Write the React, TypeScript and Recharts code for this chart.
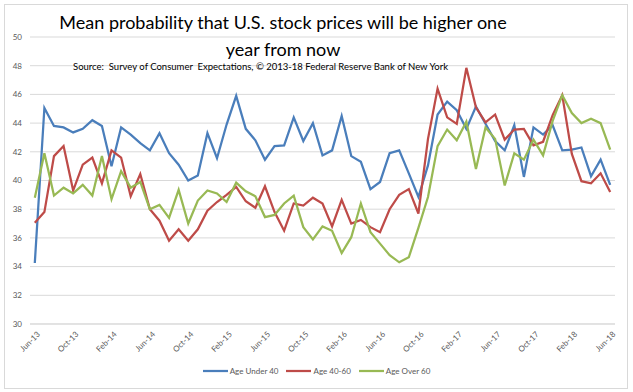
import { LineChart, Line, XAxis, YAxis, CartesianGrid, Legend } from 'recharts'

const months = [
  'Jun-13', 'Jul-13', 'Aug-13', 'Sep-13', 'Oct-13', 'Nov-13', 'Dec-13', 'Jan-14', 'Feb-14', 'Mar-14',
  'Apr-14', 'May-14', 'Jun-14', 'Jul-14', 'Aug-14', 'Sep-14', 'Oct-14', 'Nov-14', 'Dec-14', 'Jan-15',
  'Feb-15', 'Mar-15', 'Apr-15', 'May-15', 'Jun-15', 'Jul-15', 'Aug-15', 'Sep-15', 'Oct-15', 'Nov-15',
  'Dec-15', 'Jan-16', 'Feb-16', 'Mar-16', 'Apr-16', 'May-16', 'Jun-16', 'Jul-16', 'Aug-16', 'Sep-16',
  'Oct-16', 'Nov-16', 'Dec-16', 'Jan-17', 'Feb-17', 'Mar-17', 'Apr-17', 'May-17', 'Jun-17', 'Jul-17',
  'Aug-17', 'Sep-17', 'Oct-17', 'Nov-17', 'Dec-17', 'Jan-18', 'Feb-18', 'Mar-18', 'Apr-18', 'May-18',
  'Jun-18',
]

const under40 = [
  34.25, 45.05, 43.8, 43.7, 43.35, 43.6, 44.2, 43.8, 41.0, 43.7,
  43.2, 42.6, 42.1, 43.3, 41.9, 41.1, 40.0, 40.35, 43.3, 41.55,
  43.9, 45.9, 43.6, 42.8, 41.45, 42.4, 42.45, 44.4, 42.75, 44.0,
  41.75, 42.1, 44.5, 41.7, 41.3, 39.4, 39.9, 41.9, 42.1, 40.5,
  38.85, 41.05, 44.6, 45.5, 44.9, 43.6, 45.15, 43.95, 42.75, 42.1,
  43.85, 40.25, 43.7, 43.2, 43.85, 42.1, 42.15, 42.3, 40.3, 41.45,
  39.7,
]

const age40to60 = [
  37.05, 37.8, 41.7, 42.4, 39.3, 41.1, 41.6, 39.8, 42.1, 41.6,
  38.9, 40.45, 38.0, 37.2, 35.8, 36.6, 35.8, 36.6, 37.9, 38.5,
  39.0, 39.55, 38.55, 38.1, 39.6, 37.8, 36.5, 38.4, 38.25, 38.8,
  38.4, 36.8, 38.65, 37.0, 37.25, 36.75, 36.4, 38.0, 39.0, 39.4,
  37.7, 42.9, 46.4, 44.4, 43.95, 47.85, 45.1, 44.05, 44.6, 42.85,
  43.55, 43.6, 42.45, 42.7, 44.55, 45.95, 41.85, 39.95, 39.8, 40.5,
  39.2,
]

const over60 = [
  38.8, 41.9, 38.95, 39.5, 39.1, 39.7, 38.95, 41.7, 38.7, 40.65,
  39.5, 39.9, 38.0, 38.3, 37.4, 39.35, 37.0, 38.6, 39.3, 39.1,
  38.5, 39.85, 39.25, 38.9, 37.45, 37.6, 38.4, 38.95, 36.75, 35.9,
  36.8, 36.5, 34.95, 36.05, 38.4, 36.4, 35.6, 34.8, 34.3, 34.65,
  36.7, 38.85, 42.4, 43.55, 42.8, 44.1, 40.8, 43.7, 42.9, 39.65,
  41.9, 41.45, 42.85, 41.75, 44.15, 45.95, 44.7, 44.0, 44.3, 44.0,
  42.15,
]

const yTicks = [30, 32, 34, 36, 38, 40, 42, 44, 46, 48, 50]

const series = [
  { key: 'under40', name: 'Age Under 40', color: '#4a7ebb' },
  { key: 'age40to60', name: 'Age 40-60', color: '#be4b48' },
  { key: 'over60', name: 'Age Over 60', color: '#98b954' },
]

const chartData = months.map((m, i) => ({
  month: m,
  under40: under40[i],
  age40to60: age40to60[i],
  over60: over60[i],
}))

const FONT = 'Lato, "Open Sans", sans-serif'

// rotated month labels like Excel
function MonthTick({ x, y, payload }: any) {
  return (
    <g transform={`translate(${x + 3},${y})`}>
      <text x={0} y={0} dy={4} textAnchor="end" transform="rotate(-45)" fontSize={8} fill="#595959" fontFamily={FONT}>
        {payload.value}
      </text>
    </g>
  )
}

function LegendContent() {
  return (
    <div style={{ display: 'flex', justifyContent: 'center', alignItems: 'center', fontFamily: FONT, fontSize: 8, color: '#595959', paddingLeft: 18, marginTop: -3 }}>
      {series.map(s => (
        <div key={s.key} style={{ display: 'flex', alignItems: 'center', marginRight: 8 }}>
          <svg width={25} height={6} style={{ marginRight: 2 }}>
            <line x1={0} y1={3} x2={25} y2={3} stroke={s.color} strokeWidth={2.25} />
          </svg>
          <span>{s.name}</span>
        </div>
      ))}
    </div>
  )
}

export default function App() {
  return (
    <div style={{ position: 'absolute', left: 0, top: 0, width: 633, height: 392, background: '#fff' }}>
      <div style={{ position: 'absolute', left: 4, top: 4, width: 622, height: 383, border: '1px solid #d9d9d9' }} />
      <LineChart width={633} height={392} data={chartData} margin={{ top: 37, right: 18, bottom: 16, left: 8 }}>
        <CartesianGrid horizontal vertical={false} stroke="#d9d9d9" />
        <XAxis
          dataKey="month"
          interval={3}
          tickLine={false}
          axisLine={{ stroke: '#d9d9d9' }}
          height={45}
          padding={{ left: 4.8, right: 4.8 }}
          tick={<MonthTick />}
        />
        <YAxis
          domain={[30, 50]}
          ticks={yTicks}
          width={22}
          tickLine={false}
          axisLine={false}
          tick={{ fontSize: 8, fill: '#595959', fontFamily: FONT }}
        />
        {series.map(s => (
          <Line
            key={s.key}
            type="linear"
            dataKey={s.key}
            name={s.name}
            stroke={s.color}
            strokeWidth={2.25}
            dot={false}
            isAnimationActive={false}
          />
        ))}
        <Legend verticalAlign="bottom" content={<LegendContent />} />
      </LineChart>
      <div style={{ position: 'absolute', left: 0, top: 9, width: 566, textAlign: 'center', fontFamily: FONT, fontSize: 18, lineHeight: '27px', color: '#000' }}>
        Mean probability that U.S. stock prices will be higher one
        <br />
        year from now
      </div>
      <div style={{ position: 'absolute', left: 73, top: 61, fontFamily: FONT, fontSize: 9.5, color: '#000' }}>
        Source:&nbsp; Survey of Consumer&nbsp; Expectations, © 2013-18 Federal Reserve Bank of New York
      </div>
    </div>
  )
}
